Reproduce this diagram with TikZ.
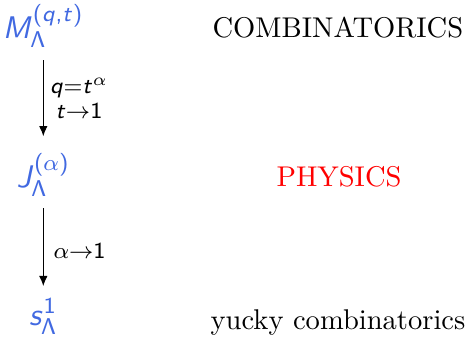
\documentclass[tikz,border=0pt]{standalone}
\usetikzlibrary{arrows.meta}
\DeclareMathAlphabet{\msf}{OT1}{cmss}{m}{n}
\DeclareMathAlphabet{\msfit}{OT1}{cmss}{m}{sl}
\DeclareSymbolFont{sfops}{OT1}{cmss}{m}{n}
\DeclareMathSymbol{(}{\mathopen}{sfops}{"28}
\DeclareMathSymbol{)}{\mathclose}{sfops}{"29}
\DeclareMathSymbol{,}{\mathpunct}{sfops}{"2C}
\DeclareMathSymbol{=}{\mathrel}{sfops}{"3D}
\definecolor{sblue}{RGB}{65,105,225}
\begin{document}
\begin{tikzpicture}[x=0.3503pt,y=-0.3503pt,
  mathnode/.style={inner sep=0pt,anchor=base,text=sblue,font=\fontsize{11}{13.2}\selectfont},
  lbl/.style={inner sep=0pt,font=\fontsize{8.4}{10}\selectfont,align=center},
  word/.style={inner sep=0pt,anchor=base west},
  arr/.style={-{Latex[length=3.6pt,width=3pt]},line width=0.4pt}]
\useasboundingbox (0,0) rectangle (471,340);
\node[mathnode] (M) at (43.3,38) {$\msfit{M}_{\msf{\Lambda}}^{(\msfit{q},\msfit{t})}$};
\node[mathnode] (J) at (43.3,187) {$\msfit{J}_{\msf{\Lambda}}^{(\alpha)}$};
\node[mathnode] (S) at (43.3,325) {$\msfit{s}_{\msf{\Lambda}}^{\msf{1}}$};
\draw[arr,shorten <=4.2pt,shorten >=5.8pt] (M.south) -- (J.north);
\draw[arr,shorten <=3.9pt,shorten >=4.2pt] (J.south) -- (S.north);
\node[lbl,anchor=base] (L1) at (79,118) {$\msfit{q}{=}\msfit{t}^{\alpha}$\\[-1.5pt]$\msfit{t}{\to}\msf{1}$};
\node[lbl,anchor=base west,font=\fontsize{8}{9.6}\selectfont] (L2) at (53,258) {$\alpha{\to}\msf{1}$};
\node[word] (C) at (212,37) {COMBINATORICS};
\node[word,text=red] (P) at (276,186) {PHYSICS};
\node[word] (Y) at (210,329) {yucky combinatorics};
\end{tikzpicture}
\end{document}
